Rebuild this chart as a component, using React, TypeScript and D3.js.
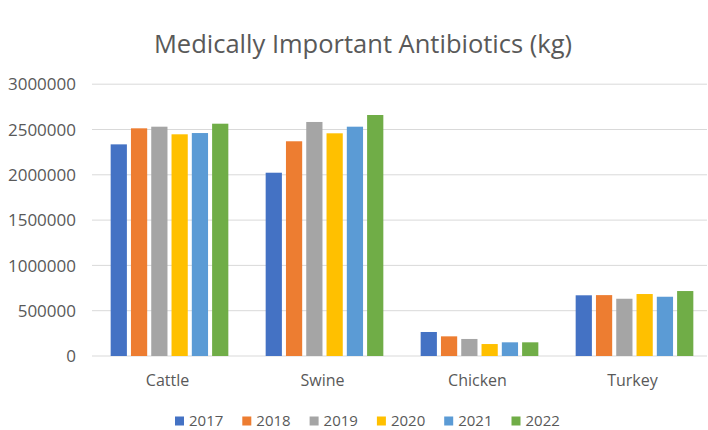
import * as d3 from "d3";

const categories = ["Cattle", "Swine", "Chicken", "Turkey"];
const years = ["2017", "2018", "2019", "2020", "2021", "2022"];
const colors = ["#4472C4", "#ED7D31", "#A5A5A5", "#FFC000", "#5B9BD5", "#70AD47"];
// kg per category, one array per year
const y2017 = [2336000, 2023000, 265000, 670000];
const y2018 = [2513000, 2370000, 217000, 672000];
const y2019 = [2531000, 2583000, 188000, 632000];
const y2020 = [2447000, 2458000, 132000, 684000];
const y2021 = [2461000, 2531000, 151000, 654000];
const y2022 = [2564000, 2660000, 151000, 717000];
const series = [y2017, y2018, y2019, y2020, y2021, y2022];
const yTicks = [0, 500000, 1000000, 1500000, 2000000, 2500000, 3000000];

const W = 708;
const H = 430;
const font = "'Open Sans', 'Noto Sans', sans-serif";

export default function App() {
  const x = d3.scaleBand().domain(categories).range([92, 712]).padding(0);
  const xi = d3
    .scaleBand()
    .domain(years)
    .range([0, x.bandwidth()])
    .paddingInner(0.2)
    .paddingOuter(0.92);
  const y = d3.scaleLinear().domain([0, 3000000]).range([356, 84.2]);

  return (
    <svg
      width={W}
      height={H}
      style={{ position: "absolute", left: 0, top: 0, background: "#fff" }}
      fontFamily={font}
    >
      <text x={363} y={53} textAnchor="middle" fontSize={25.5} fill="#595959">
        Medically Important Antibiotics (kg)
      </text>
      {yTicks.map((t) => (
        <g key={t}>
          <line x1={92} x2={707} y1={y(t)} y2={y(t)} stroke="#D9D9D9" strokeWidth={1} />
          <text x={76} y={y(t)} dy="0.36em" textAnchor="end" fontSize={17} fill="#595959">
            {t}
          </text>
        </g>
      ))}
      {categories.map((c, ci) => (
        <g key={c} transform={`translate(${x(c)},0)`}>
          {years.map((yr, si) => (
            <rect
              key={yr}
              x={xi(yr)}
              width={xi.bandwidth()}
              y={y(series[si][ci])}
              height={y(0) - y(series[si][ci])}
              fill={colors[si]}
            />
          ))}
          <text
            x={x.bandwidth() / 2 - 2}
            y={386}
            textAnchor="middle"
            fontSize={16}
            fill="#595959"
          >
            {c}
          </text>
        </g>
      ))}
      {years.map((yr, i) => (
        <g key={yr} transform={`translate(${175 + i * 67.3},421)`}>
          <rect x={0} y={-4.5} width={9} height={9} fill={colors[i]} />
          <text x={14} y={0} dy="0.36em" fontSize={15} fill="#595959">
            {yr}
          </text>
        </g>
      ))}
    </svg>
  );
}
